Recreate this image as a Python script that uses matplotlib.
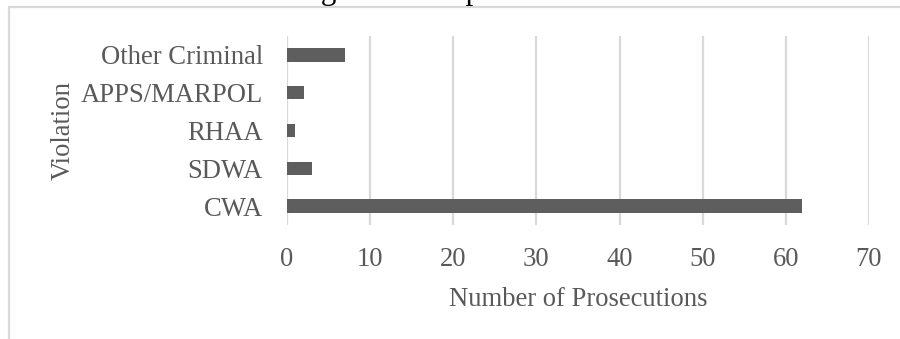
import matplotlib
matplotlib.use("Agg")
import matplotlib.pyplot as plt
from matplotlib.patches import Rectangle

violations = ["CWA", "SDWA", "RHAA", "APPS/MARPOL", "Other Criminal"]
prosecutions = [62, 3, 1, 2, 7]
x_ticks = [0, 10, 20, 30, 40, 50, 60, 70]

W, H = 900, 339
plt.rcParams["font.family"] = ["Liberation Serif", "DejaVu Serif"]
text_grey = "#595959"
bar_grey = "#5e5e5e"
grid_grey = "#d9d9d9"

fig = plt.figure(figsize=(W / 100, H / 100), dpi=100)
fig.patch.set_facecolor("white")

# plot area in pixel terms
left, right, top, bottom = 287, 869, 36, 225
ax = fig.add_axes([left / W, 1 - bottom / H, (right - left) / W, (bottom - top) / H])

pos = range(len(violations))
ax.barh(pos, prosecutions, height=0.353, color=bar_grey, zorder=3)

ax.set_xlim(0, 70)
ax.set_ylim(-0.5, len(violations) - 0.5)
ax.set_xticks(x_ticks)
ax.set_yticks(list(pos))
ax.set_yticklabels(violations)
ax.grid(axis="x", color=grid_grey, linewidth=1.6, zorder=0)
ax.grid(axis="y", visible=False)
for s in ax.spines.values():
    s.set_visible(False)
ax.tick_params(axis="both", length=0, labelsize=19.2, labelcolor=text_grey)
ax.tick_params(axis="y", pad=17.3)
ax.tick_params(axis="x", pad=15.8)

ax.set_xlabel("Number of Prosecutions", fontsize=19.2, color=text_grey)
ax.xaxis.set_label_coords(0.5, (bottom - 287) / (bottom - top))
ax.set_ylabel("Violation", fontsize=19.2, color=text_grey)
ax.yaxis.set_label_coords((76 - left) / (right - left), 0.5)

# chart border, running off the right and bottom edges
fig.patches.append(Rectangle((9 / W, -0.2), 2, 1.2 - 7 / H, transform=fig.transFigure,
                             fill=False, edgecolor=grid_grey, linewidth=1.6))

# title sits above the canvas, only its descenders show
fig.text(155 / W, 1 + 1 / H, "Statutes Charged in Compliance Prosecutions",
         fontsize=22.3, color="black", ha="left", va="baseline")

fig.savefig("out.png", dpi=100, facecolor="white")
